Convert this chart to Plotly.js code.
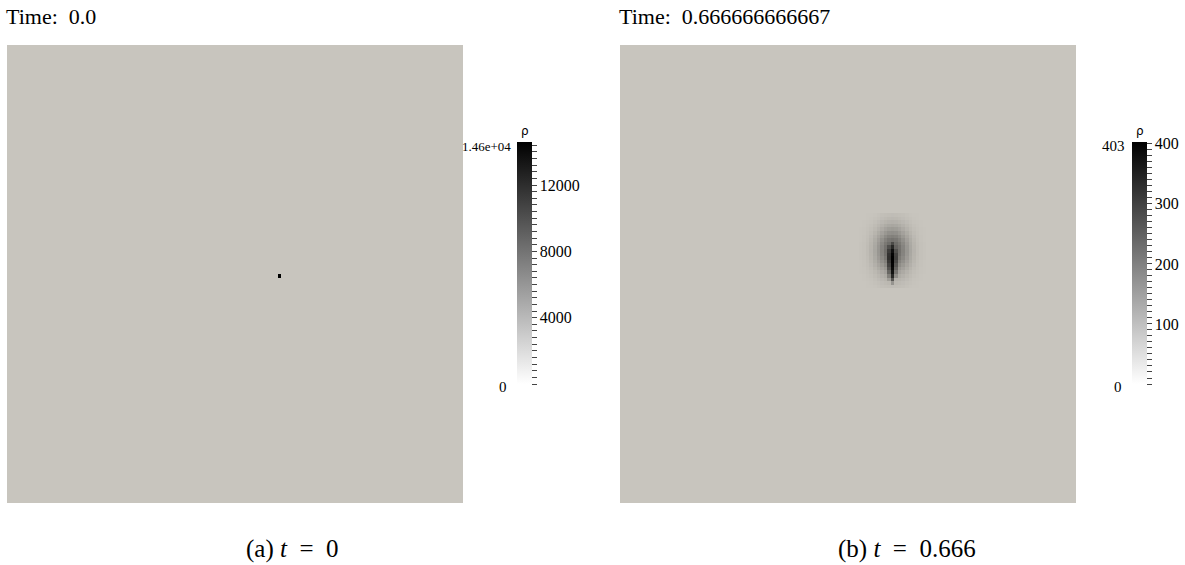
<!DOCTYPE html>
<html>
<head>
<meta charset="utf-8">
<script src="https://cdn.plot.ly/plotly-3.0.1.min.js"></script>
<style>
  html, body { margin: 0; padding: 0; background: #fff; }
  #chart { width: 1185px; height: 565px; }
</style>
</head>
<body>
<div id="chart"></div>
<script>
// Density field rho on a 128 x 128 grid, two snapshots.
const GRID = 128;

// Snapshot (a): t = 0, a single loaded cell
const timeA = "0.0";
const maxA = 14600;
const patchA_origin = [76, 64];          // [column, row from top]
const patchA = [[14600]];

// Snapshot (b): t = 0.666..., diffused blob with a dark vertical core
const timeB = "0.666666666667";
const maxB = 403;
const patchB_origin = [67, 47];          // [column, row from top]
const patchB = [
  [0,1,2,3,5,8,12,15,17,18,17,15,12,8,5,3,2,1,0],
  [1,1,3,5,8,13,18,23,27,28,27,23,18,13,8,5,3,1,1],
  [1,2,4,7,13,20,28,35,41,43,41,35,28,20,13,7,4,2,1],
  [1,3,6,11,19,29,41,52,60,63,60,52,41,29,19,11,6,3,1],
  [2,4,8,15,25,39,55,71,82,86,82,71,55,39,25,15,8,4,2],
  [2,5,10,19,33,52,73,93,108,113,108,93,73,52,33,19,10,5,2],
  [3,6,13,24,42,65,91,117,135,142,135,117,91,65,42,24,13,6,3],
  [3,7,15,29,50,77,108,138,160,168,160,138,108,77,50,29,15,7,3],
  [4,8,17,33,56,87,122,156,181,250,181,156,122,87,56,33,17,8,4],
  [4,9,19,35,60,94,132,169,240,320,200,169,132,94,60,35,19,9,4],
  [4,9,19,36,62,96,135,175,280,370,240,173,135,96,62,36,19,9,4],
  [4,9,19,35,60,94,132,172,300,395,265,169,132,94,60,35,19,9,4],
  [4,8,17,33,56,87,122,160,305,403,270,156,122,87,56,33,17,8,4],
  [3,7,15,29,50,77,108,140,290,400,255,138,108,77,50,29,15,7,3],
  [3,6,13,24,42,65,91,118,265,395,230,117,91,65,42,24,13,6,3],
  [2,5,10,19,33,52,73,93,235,385,200,93,73,52,33,19,10,5,2],
  [2,4,8,15,25,39,55,71,195,365,165,71,55,39,25,15,8,4,2],
  [1,3,6,11,19,29,41,52,140,320,115,52,41,29,19,11,6,3,1],
  [1,2,4,7,13,20,28,35,80,230,41,35,28,20,13,7,4,2,1],
  [1,1,3,5,8,13,18,23,27,100,27,23,18,13,8,5,3,1,1],
  [0,1,2,3,5,8,12,15,17,18,17,15,12,8,5,3,2,1,0]
];

// Colour bar ticks
const ticksA_step = 400;
const labelsA = {4000: "4000", 8000: "8000", 12000: "12000"};
const ticksB_step = 10;
const labelsB = {100: "100", 200: "200", 300: "300", 400: "400"};
const rangeLabelsA = ["1.46e+04", "0"];
const rangeLabelsB = ["403", "0"];

const captionA = "(a) <i>t</i>\u2002=\u20020";
const captionB = "(b) <i>t</i>\u2002=\u20020.666";

// ---------------------------------------------------------------
const W = 1185, H = 565;
const px = v => v / W;
const py = v => 1 - v / H;
const BG = "rgb(200,197,190)";
const SERIF = "Liberation Serif, Times New Roman, serif";
const SANS = "DejaVu Sans, sans-serif";

function buildField(origin, patch) {
  const z = [];
  for (let r = 0; r < GRID; r++) z.push(new Array(GRID).fill(0));
  patch.forEach((row, i) => row.forEach((v, j) => {
    z[origin[1] + i][origin[0] + j] = v;
  }));
  return z;
}

function ticks(maxV, step, labels) {
  const vals = [], text = [];
  for (let v = 0; v <= maxV; v += step) {
    vals.push(v);
    text.push(labels[v] || "");
  }
  return {vals, text};
}

function fieldTrace(z, zmax, xa, ya) {
  return {
    type: "heatmap", z: z, x0: 0, dx: 1, y0: 0, dy: 1,
    zmin: 0, zmax: zmax, zsmooth: false,
    colorscale: [[0, BG], [1, "rgb(0,0,0)"]],
    showscale: false, hoverinfo: "skip",
    xaxis: xa, yaxis: ya
  };
}

function barTrace(zmax, t, xLeft, xa, ya) {
  return {
    type: "scatter", mode: "markers", x: [-1000], y: [-1000],
    xaxis: xa, yaxis: ya, hoverinfo: "skip",
    marker: {
      size: 1, opacity: 0, color: [0], cmin: 0, cmax: zmax,
      colorscale: [[0, "rgb(255,255,255)"], [1, "rgb(0,0,0)"]],
      showscale: true,
      colorbar: {
        x: px(xLeft), xanchor: "left", xpad: 0, ypad: 0,
        y: py(263), yanchor: "middle",
        thickness: 15, thicknessmode: "pixels",
        len: 242, lenmode: "pixels",
        outlinewidth: 0,
        tickmode: "array", tickvals: t.vals, ticktext: t.text,
        ticks: "outside", ticklen: 5, tickwidth: 1, tickcolor: "#444",
        tickfont: {family: SERIF, size: 16, color: "#000"}
      }
    }
  };
}

const zA = buildField(patchA_origin, patchA);
const zB = buildField(patchB_origin, patchB);

const data = [
  fieldTrace(zA, maxA, "x", "y"),
  fieldTrace(zB, maxB, "x2", "y2"),
  barTrace(maxA, ticks(maxA, ticksA_step, labelsA), 517, "x", "y"),
  barTrace(maxB, ticks(maxB, ticksB_step, labelsB), 1132, "x2", "y2")
];

const axX = d => ({domain: d, range: [-0.5, GRID - 0.5], visible: false, fixedrange: true});
const axY = (d, anchor) => ({domain: d, range: [GRID - 0.5, -0.5], visible: false, fixedrange: true, anchor: anchor});

function note(text, x, y, xanchor, size, family) {
  return {
    text: text, x: px(x), y: py(y), xref: "paper", yref: "paper",
    xanchor: xanchor, yanchor: "middle", showarrow: false,
    font: {family: family || SERIF, size: size, color: "#000"}
  };
}

const layout = {
  width: W, height: H,
  margin: {l: 0, r: 0, t: 0, b: 0},
  paper_bgcolor: "#fff", plot_bgcolor: "#fff",
  showlegend: false,
  xaxis: axX([px(7), px(463)]),
  yaxis: axY([py(503), py(45)], "x"),
  xaxis2: axX([px(620), px(1076)]),
  yaxis2: axY([py(503), py(45)], "x2"),
  annotations: [
    note("Time:\u00a0\u00a0" + timeA, 4, 17, "left", 22),
    note("Time:\u00a0\u00a0" + timeB, 617, 17, "left", 22),
    note("ρ", 524.5, 131, "center", 12, SANS),
    note("ρ", 1139.5, 131, "center", 12, SANS),
    note(rangeLabelsA[0], 513, 146, "right", 13),
    note(rangeLabelsA[1], 509, 387, "right", 15),
    note(rangeLabelsB[0], 1127, 146, "right", 15),
    note(rangeLabelsB[1], 1124, 387, "right", 15),
    note(captionA, 292, 549, "center", 25),
    note(captionB, 907, 549, "center", 25)
  ]
};

Plotly.newPlot("chart", data, layout, {staticPlot: true, displayModeBar: false});
</script>
</body>
</html>
